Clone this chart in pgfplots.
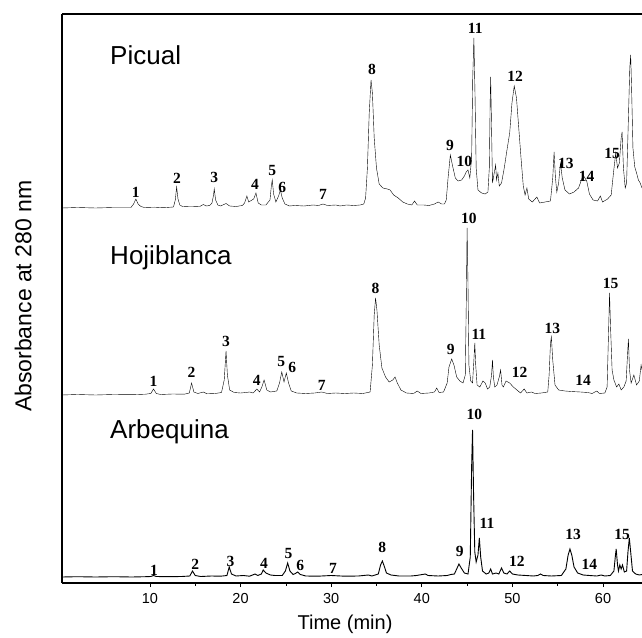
\documentclass[border=0pt]{standalone}
\usepackage{pgfplots}
\usepackage{pgfplotstable}
\usepackage{fontspec}
\pgfplotsset{compat=1.18}
\setmainfont{Liberation Sans}
\newfontfamily\pkfont{Liberation Serif}
\tikzset{
  pk/.style={font=\pkfont\bfseries\fontsize{15.5}{16}\selectfont,inner sep=0pt},
  ttl/.style={font=\fontsize{26}{28}\selectfont,anchor=west,inner sep=0pt},
}

% retention time (min) vs. height above each trace's baseline
\pgfplotstableread{
t h
0.3 0
2 0.5
4 0
6 0.5
7.5 0.5
7.9 0.5
8.2 4
8.45 9
8.7 4
9.0 1.5
9.4 0.5
10.5 0.8
11.5 0.3
12.3 0.8
12.6 1
12.8 8
12.95 21
13.1 9
13.3 3
13.6 1.5
14.5 1.2
15.5 1.5
15.9 3.5
16.2 2
16.6 2.5
16.85 5
17.0 12
17.1 19
17.25 8
17.5 3
17.8 2
18.4 4.5
18.8 2
19.5 1.5
20.2 2.5
20.45 5
20.7 12
20.9 6
21.45 9
21.7 15
21.95 5
22.3 3
22.8 3
23.25 8
23.4 22
23.5 28
23.65 14
23.9 6
24.2 12
24.4 18
24.6 10
24.9 4
25.4 2
26 2.5
27 2
28 3
28.6 2.5
29.1 4
29.6 2.5
30.5 3
31 2
31.7 3
32.5 2.5
33.2 3
33.6 4
33.8 10
34.0 40
34.2 95
34.4 128
34.55 115
34.75 70
35.0 40
35.3 24
35.7 20
36.2 19
36.5 18
36.9 13
37.4 10
37.9 6
38.4 4
38.9 3
39.2 7
39.5 3
40.2 3
40.8 2.5
41.4 4
41.8 6
42.2 4
42.5 4
42.7 8
42.9 30
43.15 53
43.4 42
43.7 30
44.0 27
44.4 28
44.7 32
44.9 36
45.1 38
45.3 30
45.5 50
45.62 130
45.75 170
45.88 110
46.0 40
46.2 18
46.6 15
47.0 14
47.3 16
47.45 40
47.55 110
47.6 131
47.68 90
47.8 25
48.15 43
48.25 28
48.4 35
48.55 22
48.8 25
49.1 40
49.4 58
49.7 75
49.95 105
50.2 122
50.45 110
50.7 80
50.95 50
51.2 22
51.4 13
51.6 20
51.8 9
52.2 6
52.7 11
53.0 5
53.6 6
54.2 7
54.45 30
54.6 56
54.75 30
54.9 16
55.1 25
55.3 45
55.5 30
55.8 18
56.3 14
56.8 16
57.3 20
57.8 33
58.2 27
58.5 14
58.9 8
59.4 7
59.7 12
59.95 6
60.5 9
60.9 13
61.15 35
61.4 55
61.6 40
61.8 45
62.0 70
62.1 76
62.25 40
62.45 20
62.6 25
62.8 90
62.95 140
63.05 153
63.15 120
63.3 60
63.5 41
63.7 35
63.9 28
64.1 25
64.3 20
}\picual

\pgfplotstableread{
t h
0.3 0
2 0.5
4 0
6 0.5
8 0.3
9.5 0.8
10.1 1.5
10.4 6
10.7 1.5
11.2 0.5
12.5 1
13.8 0.8
14.35 2
14.6 12
14.85 3
15.3 1.5
15.9 3
16.3 1.2
17.2 1.5
17.9 2.5
18.2 15
18.4 44
18.55 20
18.8 5
19.3 2.5
20.0 2
20.6 2.5
21.0 3
21.4 2
21.8 6
22.1 3
22.35 8
22.6 15
22.9 5
23.3 3
24.0 4
24.3 12
24.55 23
24.8 13
25.05 22
25.3 12
25.6 4
26.2 2
27.2 1.5
28.2 2
28.95 3
29.6 1.5
30.5 2
31.5 1.5
32.5 2
33.5 1.5
34.3 3
34.55 30
34.75 80
34.9 97
35.05 85
35.3 50
35.6 27
36.0 18
36.4 13
36.8 15
37.05 18
37.3 12
37.7 5
38.3 2
39.1 1.5
39.5 4
39.9 1.5
40.8 2
41.4 3
41.65 7
41.9 2.5
42.4 3
42.8 12
43.0 28
43.3 36
43.55 30
43.85 18
44.2 14
44.55 12
44.8 20
44.92 100
45.0 167
45.1 110
45.2 30
45.4 14
45.6 12
45.75 35
45.85 52
45.95 30
46.1 10
46.4 8
46.75 14
47.0 12
47.25 6
47.5 8
47.7 20
47.8 35
47.9 18
48.05 8
48.3 10
48.55 18
48.7 25
48.85 10
49.0 8
49.3 14
49.7 12
50.1 8
50.5 5
50.9 2
51.3 6
51.6 2
52.1 3
52.5 1.5
53.2 2
53.9 3
54.05 20
54.2 52
54.3 58
54.45 35
54.7 10
55.1 5
55.8 4
56.5 3.5
57.5 3
58.3 2.5
58.8 1.5
59.3 4
59.6 1.5
60.2 2
60.45 8
60.6 60
60.72 102
60.82 70
61.0 25
61.2 15
61.5 8
61.75 11
62.0 5
62.3 8
62.55 14
62.7 40
62.8 56
62.92 25
63.1 12
63.4 20
63.7 10
64.0 14
64.2 30
64.3 25
}\hojiblanca

\pgfplotstableread{
t h
0.3 0
2 0.3
4 0
6 0.3
8 0
9.5 0.3
10.1 0.5
10.4 1.5
10.7 0.5
12 0.3
13.5 0.5
14.4 1
14.7 6
15.0 1.5
15.6 0.5
16.8 1
17.8 0.8
18.5 1.5
18.75 10
19.0 3
19.5 1
20.3 1.5
21.0 0.8
21.6 3
21.9 1.5
22.3 3
22.5 7
22.8 4
23.3 2
23.8 1.5
24.6 1.5
24.95 6
25.2 14
25.45 6
25.8 2.5
26.05 3.5
26.3 5
26.6 2.5
27.2 1
28.5 0.8
30.0 1.5
31.5 0.8
33 1
34.1 2
34.5 1
35.2 3
35.45 12
35.65 16
35.85 11
36.1 4
36.6 2
37.5 1
38.8 1
39.4 1.5
40.4 3
40.7 1.5
41.8 1
42.8 1.5
43.2 2.5
43.6 3
43.9 9
44.1 13
44.35 9
44.7 4
45.1 3
45.35 20
45.5 110
45.6 147
45.72 80
45.85 25
46.0 15
46.2 22
46.35 39
46.5 20
46.7 6
47.1 3
47.4 4
47.6 8
47.8 3
48.2 4
48.5 3
48.8 9
49.05 4
49.4 3
49.7 6
50.0 3
50.6 2
51.5 1.5
52.3 1
52.8 1.5
53.1 3
53.4 1.5
54.3 1
55.4 1.5
55.9 8
56.15 22
56.35 28
56.55 22
56.8 10
57.2 4
57.8 2
58.5 1.5
59.3 1
59.8 2
60.2 1
60.8 1.5
61.2 6
61.35 20
61.45 28
61.6 12
61.7 6
61.85 12
62.0 8
62.15 12
62.35 5
62.6 6
62.75 25
62.9 39
63.05 25
63.25 6
63.6 3
64.0 2
64.3 2.5
}\arbequina

\begin{document}
\begin{tikzpicture}
\begin{axis}[
  at={(62pt,54pt)},anchor=south west,
  scale only axis,width=580pt,height=569pt,
  xmin=0.3,xmax=64.3,ymin=0,ymax=569,
  axis x line=box,axis y line=left,
  axis line style={-,line width=1.1pt},
  xtick={10,20,...,60},minor x tick num=1,
  xtick pos=bottom,tick align=outside,
  major tick length=4pt,minor tick length=2.5pt,
  ytick=\empty,
  tick style={black,line width=0.6pt},
  /pgf/number format/assume math mode=true,
  xticklabel style={font=\fontsize{14.5}{16}\selectfont,yshift=-3pt},
  xlabel={Time (min)},
  xlabel style={font=\fontsize{20}{22}\selectfont,at={(axis description cs:0.488,-0.072)},anchor=center},
  ylabel={Absorbance at 280 nm},
  ylabel style={font=\fontsize{23}{25}\selectfont,at={(axis description cs:-0.067,0.504)},anchor=center,rotate=0},
  clip mode=individual,
  cycle list={{black,no markers,line width=0.9pt,line join=round}},
]
\addplot table[x=t,y expr=\thisrow{h}+375] {\picual};
\addplot table[x=t,y expr=\thisrow{h}+188] {\hojiblanca};
\addplot table[x=t,y expr=\thisrow{h}+6] {\arbequina};

\node[ttl] at (axis cs:5.6,528) {Picual};
\node[ttl] at (axis cs:5.6,325) {Hojiblanca};
\node[ttl] at (axis cs:5.6,151) {Arbequina};

% Picual peak numbers
\node[pk] at (axis cs:8.45,391) {1};
\node[pk] at (axis cs:13.0,405) {2};
\node[pk] at (axis cs:17.1,406) {3};
\node[pk] at (axis cs:21.6,399) {4};
\node[pk] at (axis cs:23.5,412) {5};
\node[pk] at (axis cs:24.6,396) {6};
\node[pk] at (axis cs:29.1,389) {7};
\node[pk] at (axis cs:34.5,514) {8};
\node[pk] at (axis cs:43.1,438) {9};
\node[pk] at (axis cs:44.7,422) {10};
\node[pk] at (axis cs:45.9,555) {11};
\node[pk] at (axis cs:50.3,507) {12};
\node[pk] at (axis cs:55.9,420) {13};
\node[pk] at (axis cs:58.2,407) {14};
\node[pk] at (axis cs:61.0,430) {15};
% Hojiblanca peak numbers
\node[pk] at (axis cs:10.4,202) {1};
\node[pk] at (axis cs:14.6,211) {2};
\node[pk] at (axis cs:18.4,242) {3};
\node[pk] at (axis cs:21.8,203) {4};
\node[pk] at (axis cs:24.5,221) {5};
\node[pk] at (axis cs:25.7,216) {6};
\node[pk] at (axis cs:28.95,198) {7};
\node[pk] at (axis cs:34.9,295) {8};
\node[pk] at (axis cs:43.2,234) {9};
\node[pk] at (axis cs:45.2,365) {10};
\node[pk] at (axis cs:46.3,249) {11};
\node[pk] at (axis cs:50.8,211) {12};
\node[pk] at (axis cs:54.4,255) {13};
\node[pk] at (axis cs:57.8,203) {14};
\node[pk] at (axis cs:60.85,300) {15};
% Arbequina peak numbers
\node[pk] at (axis cs:10.45,13) {1};
\node[pk] at (axis cs:15.0,19) {2};
\node[pk] at (axis cs:18.9,22) {3};
\node[pk] at (axis cs:22.6,20) {4};
\node[pk] at (axis cs:25.3,29) {5};
\node[pk] at (axis cs:26.6,18) {6};
\node[pk] at (axis cs:30.2,15) {7};
\node[pk] at (axis cs:35.65,36) {8};
\node[pk] at (axis cs:44.2,32) {9};
\node[pk] at (axis cs:45.8,169) {10};
\node[pk] at (axis cs:47.2,60) {11};
\node[pk] at (axis cs:50.5,22) {12};
\node[pk] at (axis cs:56.7,49) {13};
\node[pk] at (axis cs:58.5,19) {14};
\node[pk] at (axis cs:62.1,49) {15};
\end{axis}
\pgfresetboundingbox
\path[use as bounding box] (0,0) rectangle (642pt,637pt);
\end{tikzpicture}
\end{document}
